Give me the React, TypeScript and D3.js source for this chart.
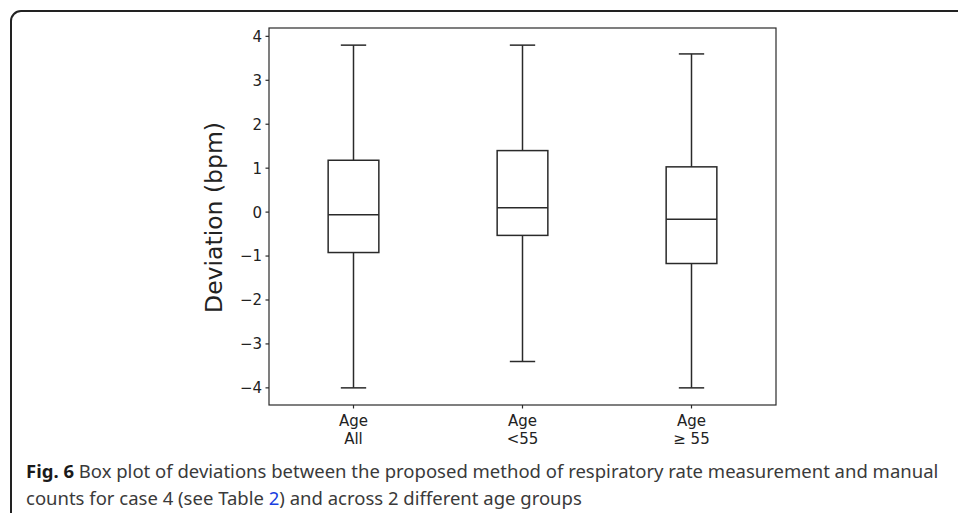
import React from "react";
import * as d3 from "d3";

// groups shown on the x axis (two label lines each)
const groupTop = ["Age", "Age", "Age"];
const groupBottom = ["All", "<55", "\u2265 55"];

// five-number summaries
const whiskerLow = [-4.0, -3.4, -4.0];
const q1 = [-0.92, -0.53, -1.17];
const median = [-0.06, 0.1, -0.16];
const q3 = [1.18, 1.4, 1.03];
const whiskerHigh = [3.8, 3.8, 3.6];

const yTicks = [-4, -3, -2, -1, 0, 1, 2, 3, 4];

const captionBold = "Fig. 6";
const captionLine1 = " Box plot of deviations between the proposed method of respiratory rate measurement and manual";
const captionLine2a = "counts for case 4 (see Table ";
const captionLink = "2";
const captionLine2b = ") and across 2 different age groups";

export default function App() {
  const width = 958;
  const height = 513;
  const plot = { left: 269, right: 776, top: 28, bottom: 405 };

  const x = d3.scaleLinear().domain([0.5, 3.5]).range([plot.left, plot.right]);
  const y = d3.scaleLinear().domain([-4.39, 4.19]).range([plot.bottom, plot.top]);

  const boxW = x(1.15) - x(0.85);
  const capW = boxW / 2;
  const ink = "#2a2a2a";
  const tickFont = "DejaVu Sans, sans-serif";
  const capFont = "Noto Sans, sans-serif";

  const frame = d3.path();
  frame.moveTo(11, height + 5);
  frame.lineTo(11, 21);
  frame.arcTo(11, 11, 21, 11, 10);
  frame.lineTo(width + 5, 11);

  return (
    <svg
      width={width}
      height={height}
      style={{ position: "fixed", left: 0, top: 0, background: "#fff" }}
    >
      <rect x={0} y={0} width={width} height={height} fill="#fff" />
      <path d={frame.toString()} fill="none" stroke="#222" strokeWidth={2} />

      {/* boxes */}
      {groupTop.map((_, i) => {
        const cx = x(i + 1);
        return (
          <g key={i} stroke={ink} strokeWidth={1.5} fill="none">
            <line x1={cx} x2={cx} y1={y(q3[i])} y2={y(whiskerHigh[i])} />
            <line x1={cx} x2={cx} y1={y(q1[i])} y2={y(whiskerLow[i])} />
            <line x1={cx - capW / 2} x2={cx + capW / 2} y1={y(whiskerHigh[i])} y2={y(whiskerHigh[i])} />
            <line x1={cx - capW / 2} x2={cx + capW / 2} y1={y(whiskerLow[i])} y2={y(whiskerLow[i])} />
            <rect x={cx - boxW / 2} y={y(q3[i])} width={boxW} height={y(q1[i]) - y(q3[i])} />
            <line x1={cx - boxW / 2} x2={cx + boxW / 2} y1={y(median[i])} y2={y(median[i])} />
          </g>
        );
      })}

      {/* axes frame */}
      <rect
        x={plot.left}
        y={plot.top}
        width={plot.right - plot.left}
        height={plot.bottom - plot.top}
        fill="none"
        stroke={ink}
        strokeWidth={1.2}
      />

      {/* y ticks */}
      {yTicks.map((t) => (
        <g key={t}>
          <line x1={plot.left - 3.5} x2={plot.left} y1={y(t)} y2={y(t)} stroke={ink} strokeWidth={1.2} />
          <text
            x={plot.left - 7}
            y={y(t)}
            dy="0.36em"
            textAnchor="end"
            fontFamily={tickFont}
            fontSize={15}
            fill="#222"
          >
            {t < 0 ? "\u2212" + Math.abs(t) : String(t)}
          </text>
        </g>
      ))}

      {/* x ticks */}
      {groupTop.map((g, i) => (
        <g key={"x" + i}>
          <line x1={x(i + 1)} x2={x(i + 1)} y1={plot.bottom} y2={plot.bottom + 3.5} stroke={ink} strokeWidth={1.2} />
          <text x={x(i + 1)} y={plot.bottom + 21} textAnchor="middle" fontFamily={tickFont} fontSize={15} fill="#222">
            {g}
          </text>
          <text x={x(i + 1)} y={plot.bottom + 38.5} textAnchor="middle" fontFamily={tickFont} fontSize={15} fill="#222">
            {groupBottom[i]}
          </text>
        </g>
      ))}

      {/* y label */}
      <text
        transform={`translate(${222},${(plot.top + plot.bottom) / 2 + 1}) rotate(-90)`}
        textAnchor="middle"
        fontFamily={tickFont}
        fontSize={23.5}
        fill="#222"
      >
        Deviation (bpm)
      </text>

      {/* caption */}
      <text x={26} y={478} fontFamily={capFont} fontSize={18.5} fill="#3a3a3a">
        <tspan fontWeight="bold" fill="#1a1a1a">{captionBold}</tspan>
        <tspan>{captionLine1}</tspan>
      </text>
      <text x={26} y={505} fontFamily={capFont} fontSize={18.5} fill="#3a3a3a">
        <tspan>{captionLine2a}</tspan>
        <tspan fill="#1a3fe0">{captionLink}</tspan>
        <tspan>{captionLine2b}</tspan>
      </text>
    </svg>
  );
}
